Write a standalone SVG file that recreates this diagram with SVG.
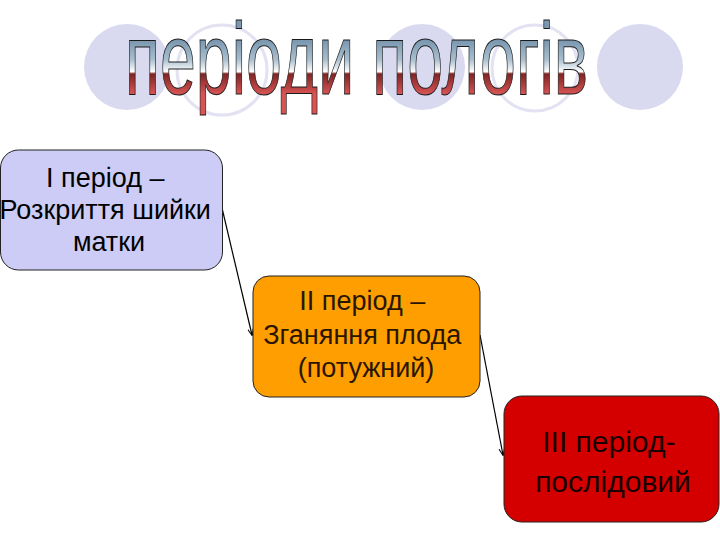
<svg xmlns="http://www.w3.org/2000/svg" width="720" height="540" viewBox="0 0 720 540">
  <defs>
    <linearGradient id="titleGrad" gradientUnits="userSpaceOnUse" x1="0" y1="-53" x2="0" y2="0">
      <stop offset="0" stop-color="#7b98b0"/>
      <stop offset="0.35" stop-color="#a9bfcf"/>
      <stop offset="0.58" stop-color="#ffffff"/>
      <stop offset="0.62" stop-color="#7e2424"/>
      <stop offset="1" stop-color="#d85454"/>
    </linearGradient>
    <marker id="arrow" viewBox="0 0 10 10" refX="9" refY="5" markerWidth="7" markerHeight="7" markerUnits="userSpaceOnUse" orient="auto">
      <path d="M0,1 L10,5 L0,9" fill="none" stroke="#000" stroke-width="1.5"/>
    </marker>
    <style>
      .bgfill { fill: #d9d9f0; }
      .bgring { fill: none; stroke: #e2e2f2; stroke-width: 3; }
      .box { stroke: #222; stroke-width: 1; }
      .lbl { font-family: "Liberation Sans", Arial, sans-serif; text-anchor: middle; }
      .conn { stroke: #000; stroke-width: 1.2; fill: none; }
    </style>
  </defs>
  <rect width="720" height="540" fill="#ffffff"/>

  <g id="background">
    <circle class="bgfill" cx="127" cy="67" r="43"/>
    <circle class="bgring" cx="222" cy="70" r="45"/>
    <circle class="bgfill" cx="422" cy="67" r="43"/>
    <circle class="bgring" cx="535" cy="68" r="43"/>
    <circle class="bgfill" cx="640" cy="67" r="43"/>
  </g>

  <g id="title">
    <text transform="translate(125,94) scale(0.63,1)" x="0" y="0" font-family="'Liberation Sans', Arial, sans-serif" font-size="102" textLength="735" lengthAdjust="spacingAndGlyphs" fill="url(#titleGrad)" stroke="#1a1a1a" stroke-width="1">періоди пологів</text>
  </g>

  <g id="connectors">
    <line class="conn" x1="222" y1="208" x2="252" y2="335" marker-end="url(#arrow)"/>
    <line class="conn" x1="480" y1="335" x2="503" y2="455" marker-end="url(#arrow)"/>
  </g>

  <g id="node1">
    <rect class="box" x="0.5" y="150" width="222" height="120" rx="18" fill="#ccccf7"/>
    <text class="lbl" font-size="27" fill="#000">
      <tspan x="109" y="187">I період –</tspan>
      <tspan x="109" y="219">Розкриття шийки</tspan>
      <tspan x="109" y="251">матки</tspan>
    </text>
  </g>

  <g id="node2">
    <rect class="box" x="253" y="276" width="227" height="121" rx="16" fill="#ff9e00"/>
    <text class="lbl" font-size="27" fill="#2a1600">
      <tspan x="366" y="310">II період –</tspan>
      <tspan x="366" y="344">Зганяння плода</tspan>
      <tspan x="366" y="377">(потужний)</tspan>
    </text>
  </g>

  <g id="node3">
    <rect class="box" x="504" y="396" width="215" height="126" rx="18" fill="#d40000"/>
    <text class="lbl" font-size="30" fill="#1a0000">
      <tspan x="613" y="452">III період-</tspan>
      <tspan x="613" y="492">послідовий</tspan>
    </text>
  </g>
</svg>
